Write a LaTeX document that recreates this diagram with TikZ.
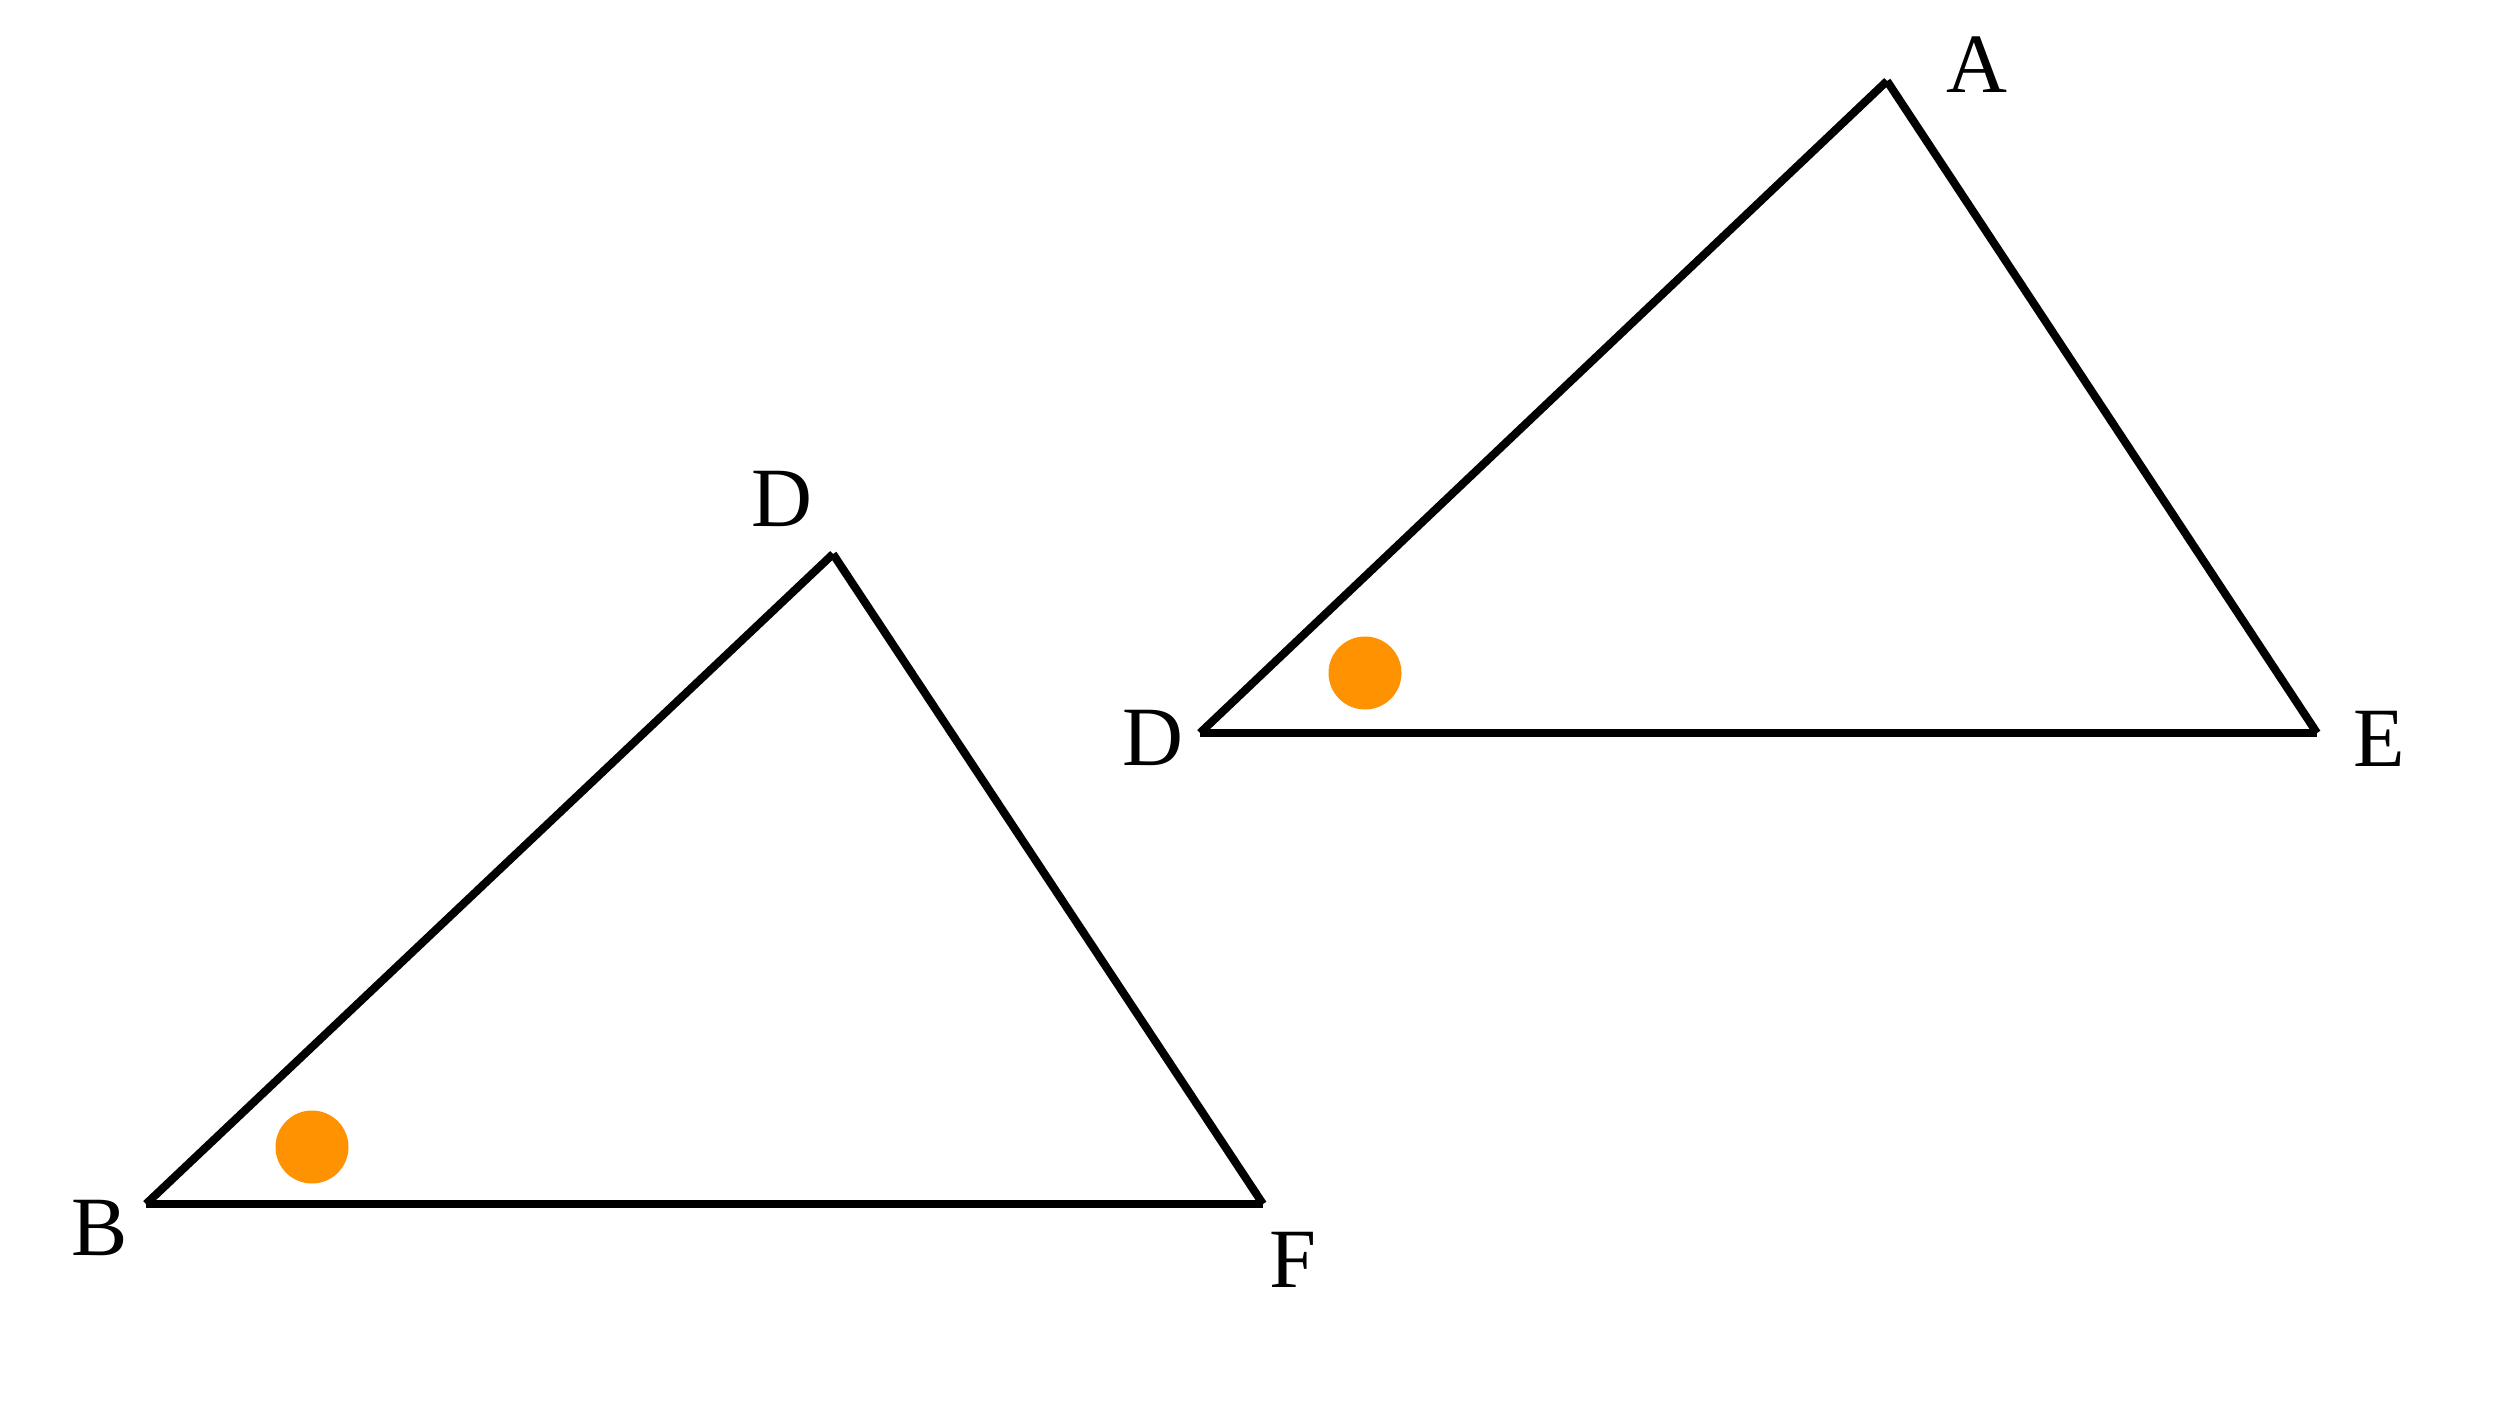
\documentclass[tikz,border=0pt]{standalone}
\usepackage{fontspec}
\setmainfont{Liberation Serif}
\usepackage{tikz}
\definecolor{dotorange}{RGB}{255,146,0}

\begin{document}
\begin{tikzpicture}[x=0.01cm,y=-0.01cm,
		side/.style={line width=2.3pt},
		vlabel/.style={font=\fontsize{24}{28}\selectfont, inner sep=0pt},
		marker/.style={fill=dotorange, draw=none}]
		% Canvas
		\useasboundingbox (0,0) rectangle (2500,1406);
		% Corners of the left triangle
		\coordinate (B) at (146,1204);
		\coordinate (D1) at (833,554);
		\coordinate (F) at (1263,1204);
		% Corners of the right triangle
		\coordinate (D2) at (1200,733);
		\coordinate (A) at (1887,81);
		\coordinate (E) at (2317,733);
		% Draw left triangle
		\draw[side] (B) -- (D1);
		\draw[side] (D1) -- (F);
		\draw[side] (F) -- (B);
		% Draw right triangle
		\draw[side] (D2) -- (A);
		\draw[side] (A) -- (E);
		\draw[side] (E) -- (D2);
		% Label corners
		\node[vlabel] (labD1) at (782,499) {D};
		\node[vlabel] (labB) at (100,1228) {B};
		\node[vlabel] (labF) at (1293,1260) {F};
		\node[vlabel] (labA) at (1977,65) {A};
		\node[vlabel] (labD2) at (1153,738) {D};
		\node[vlabel] (labE) at (2379,739) {E};
		% Equal angle marks
		\fill[marker] (312,1147) circle[radius=36.5];
		\fill[marker] (1365,673) circle[radius=36.5];
	\end{tikzpicture}
\end{document}
